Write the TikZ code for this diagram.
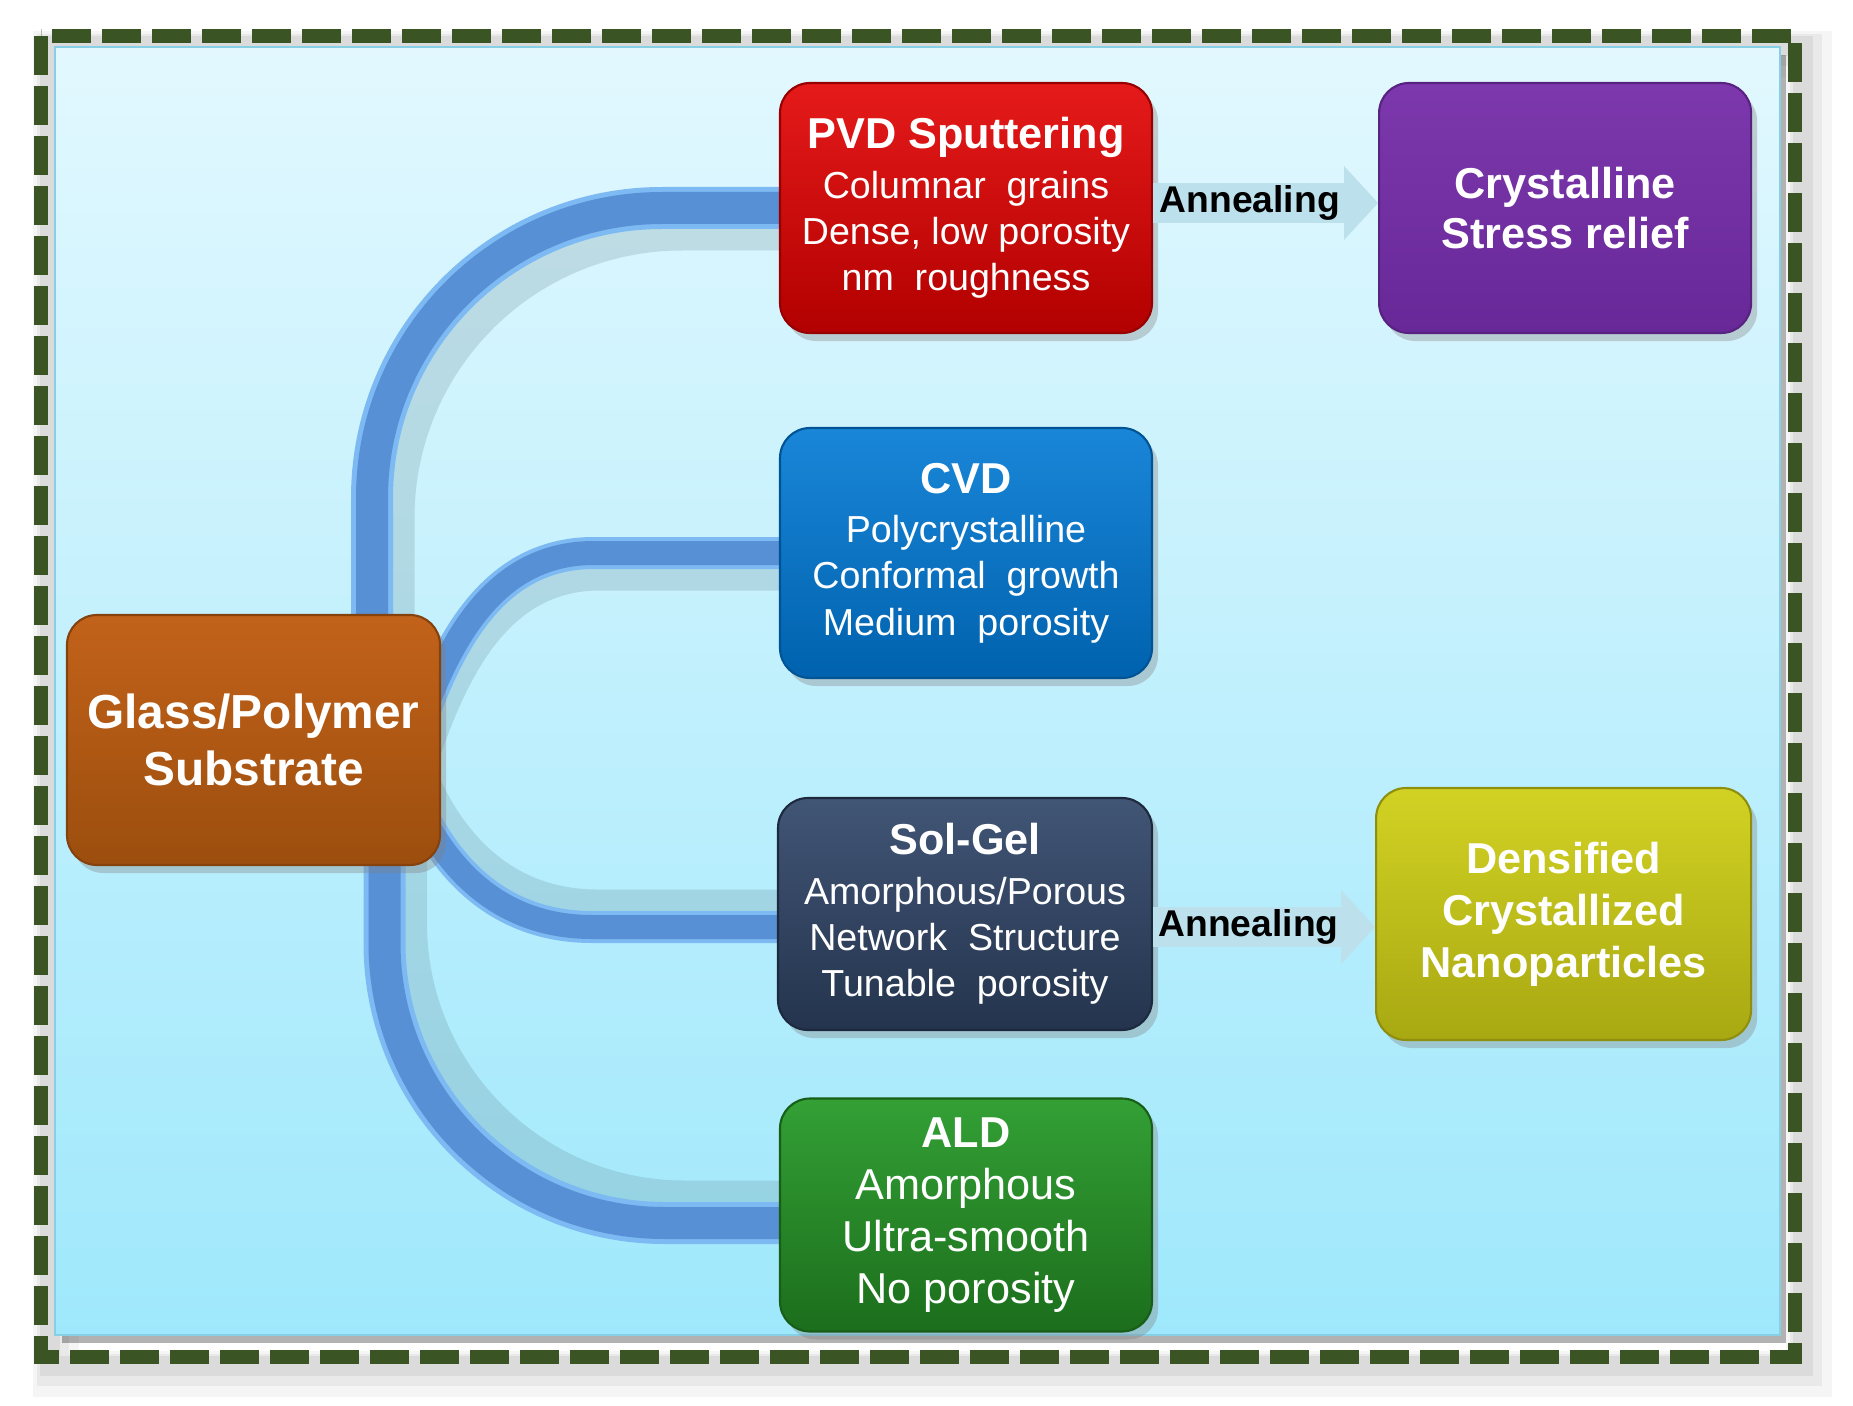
\documentclass[tikz,border=0pt]{standalone}
\usepackage{fontspec}
\setmainfont{Liberation Sans}
\usepackage{tikz}
\usetikzlibrary{arrows.meta,positioning,calc,shadows}
\definecolor{frameg}{HTML}{3A5424}
\definecolor{panelt}{HTML}{E2F8FE}
\definecolor{panelb}{HTML}{9FE8FC}
\definecolor{paneledge}{HTML}{86CFE4}
\definecolor{tubel}{HTML}{7DB9F2}
\definecolor{tubed}{HTML}{5890D6}
\definecolor{tubesh}{HTML}{5F828C}
\definecolor{annealc}{HTML}{BCE0EC}
\definecolor{pvdt}{HTML}{E51A1A}
\definecolor{pvdb}{HTML}{B20000}
\definecolor{cvdt}{HTML}{1A86D8}
\definecolor{cvdb}{HTML}{0062AE}
\definecolor{solt}{HTML}{415575}
\definecolor{solb}{HTML}{24344E}
\definecolor{aldt}{HTML}{33A035}
\definecolor{aldb}{HTML}{1C6E1C}
\definecolor{subt}{HTML}{C2621A}
\definecolor{subb}{HTML}{9C4E0E}
\definecolor{cryt}{HTML}{7C38AC}
\definecolor{cryb}{HTML}{682898}
\definecolor{dent}{HTML}{D2D224}
\definecolor{denb}{HTML}{A8A812}
\pgfdeclarelayer{panel}
\pgfdeclarelayer{wires}
\pgfsetlayers{panel,wires,main}
\tikzset{
  proc/.style={rounded corners=0.3cm,align=center,text=white,minimum width=3.72cm,minimum height=#1,inner sep=2pt,
    font=\fontsize{10.7}{13.1}\selectfont,
    drop shadow={shadow xshift=0.06cm,shadow yshift=-0.08cm,opacity=0.35}},
  proc/.default=2.5cm,
  paint/.style n args={3}{top color=#1,bottom color=#2,draw=#3,line width=0.6pt},
  tube/.style={line width=0.42cm,draw=tubel,postaction={draw=tubed,line width=0.32cm}},
  thintube/.style={line width=0.32cm,draw=tubel,postaction={draw=tubed,line width=0.24cm}},
  tubeshade/.style={line width=0.45cm,draw=tubesh,opacity=0.22},
  glow/.style={draw=black,opacity=#1},
  anneal/.style={draw=annealc,line width=0.4cm,-{Triangle[length=0.34cm,width=0.74cm,line width=0pt]}},
  annot/.style={font=\bfseries\fontsize{10.6}{12}\selectfont,text=black,inner sep=0pt},
}
\newcommand{\ttl}{\bfseries\fontsize{12.3}{14.2}\selectfont}

\begin{document}
\begin{tikzpicture}
  \useasboundingbox (0,0) rectangle (18.53,-14.06);
  % frame and panel
  \begin{pgfonlayer}{panel}
  \draw[glow=0.04,line width=0.46cm] (0.56,-0.54) rectangle (18.09,-13.74);
  \draw[glow=0.05,line width=0.32cm] (0.53,-0.50) rectangle (18.06,-13.70);
  \draw[glow=0.06,line width=0.2cm] (0.50,-0.46) rectangle (18.03,-13.66);
  \fill[black,opacity=0.3] (0.62,-0.55) rectangle (17.86,-13.43);
  \shade[top color=panelt,bottom color=panelb,draw=paneledge,line width=0.8pt] (0.55,-0.47) rectangle (17.80,-13.35);
  \draw[line width=0.14cm,draw=frameg,dash pattern=on 0.39cm off 0.11cm] (0.41,-0.36) rectangle (17.95,-13.57);
  \end{pgfonlayer}

  % substrate and processes
  \node[proc,paint={subt}{subb}{subb!85!black},minimum width=3.73cm,font=\bfseries\fontsize{13.6}{16.2}\selectfont] (sub) at (2.535,-7.40) {Glass/Polymer\\ Substrate};
  \node[proc,paint={pvdt}{pvdb}{pvdb!85!black}] (pvd) at (9.66,-2.08) {{\ttl PVD Sputtering}\\[1pt] Columnar\ \ grains\\ Dense, low porosity\\ nm\ \ roughness};
  \node[proc,paint={cvdt}{cvdb}{cvdb!85!black}] (cvd) at (9.66,-5.53) {{\ttl CVD}\\[1pt] Polycrystalline\\ Conformal\ \ growth\\ Medium\ \ porosity};
  \node[proc=2.32cm,paint={solt}{solb}{solb!80!black},minimum width=3.74cm] (sol) at (9.65,-9.14) {{\ttl Sol-Gel}\\[1pt] Amorphous/Porous\\ Network\ \ Structure\\ Tunable\ \ porosity};
  \node[proc=2.33cm,paint={aldt}{aldb}{aldb!85!black},font=\fontsize{12.3}{14.8}\selectfont] (ald) at (9.66,-12.15) {{\ttl ALD}\\ Amorphous\\ Ultra-smooth\\ No porosity};
  \node[proc,paint={cryt}{cryb}{cryb!85!black},right=2.25cm of pvd,font=\bfseries\fontsize{12.3}{14.2}\selectfont] (cry) {Crystalline\\ Stress relief};
  \node[proc=2.52cm,paint={dent}{denb}{denb!85!black},minimum width=3.75cm,right=2.22cm of sol,font=\bfseries\fontsize{12.3}{14.8}\selectfont] (dens) {Densified\\ Crystallized\\ Nanoparticles};

  % tubes from the substrate, behind the boxes
  \begin{pgfonlayer}{wires}
  \draw[tubeshade,rounded corners=2.9cm,transform canvas={shift={(0.2,-0.2)}}] ([xshift=1.185cm,yshift=-0.3cm]sub.north) |- (pvd.west);
  \draw[tubeshade,line width=0.35cm,transform canvas={shift={(0.06,-0.2)}}] ([xshift=-0.3cm,yshift=-0.1cm]sub.east) to[out=72,in=180] ([xshift=-1.85cm]cvd.west) -- (cvd.west);
  \draw[tubeshade,line width=0.35cm,transform canvas={shift={(0.06,0.2)}}] ([xshift=-0.3cm,yshift=-0.5cm]sub.east) to[out=-68,in=180] ([xshift=-1.85cm,yshift=-0.13cm]sol.west) -- ([yshift=-0.13cm]sol.west);
  \draw[tubeshade,rounded corners=2.8cm,transform canvas={shift={(0.2,0.2)}}] ([xshift=1.31cm,yshift=0.3cm]sub.south) |- ([yshift=-0.08cm]ald.west);
  \draw[tube,rounded corners=2.9cm] ([xshift=1.185cm,yshift=-0.3cm]sub.north) |- (pvd.west);
  \draw[thintube] ([xshift=-0.3cm,yshift=-0.1cm]sub.east) to[out=72,in=180] ([xshift=-1.85cm]cvd.west) -- (cvd.west);
  \draw[thintube] ([xshift=-0.3cm,yshift=-0.5cm]sub.east) to[out=-68,in=180] ([xshift=-1.85cm,yshift=-0.13cm]sol.west) -- ([yshift=-0.13cm]sol.west);
  \draw[tube,rounded corners=2.8cm] ([xshift=1.31cm,yshift=0.3cm]sub.south) |- ([yshift=-0.08cm]ald.west);
  \end{pgfonlayer}

  % annealing steps
  \draw[anneal] ([yshift=0.05cm]pvd.east) -- node[pos=0.43,annot] {Annealing} ([yshift=0.05cm]cry.west);
  \draw[anneal] ([yshift=-0.13cm]sol.east) -- node[pos=0.43,annot] {Annealing} ([yshift=-0.13cm]dens.west);
\end{tikzpicture}
\end{document}
